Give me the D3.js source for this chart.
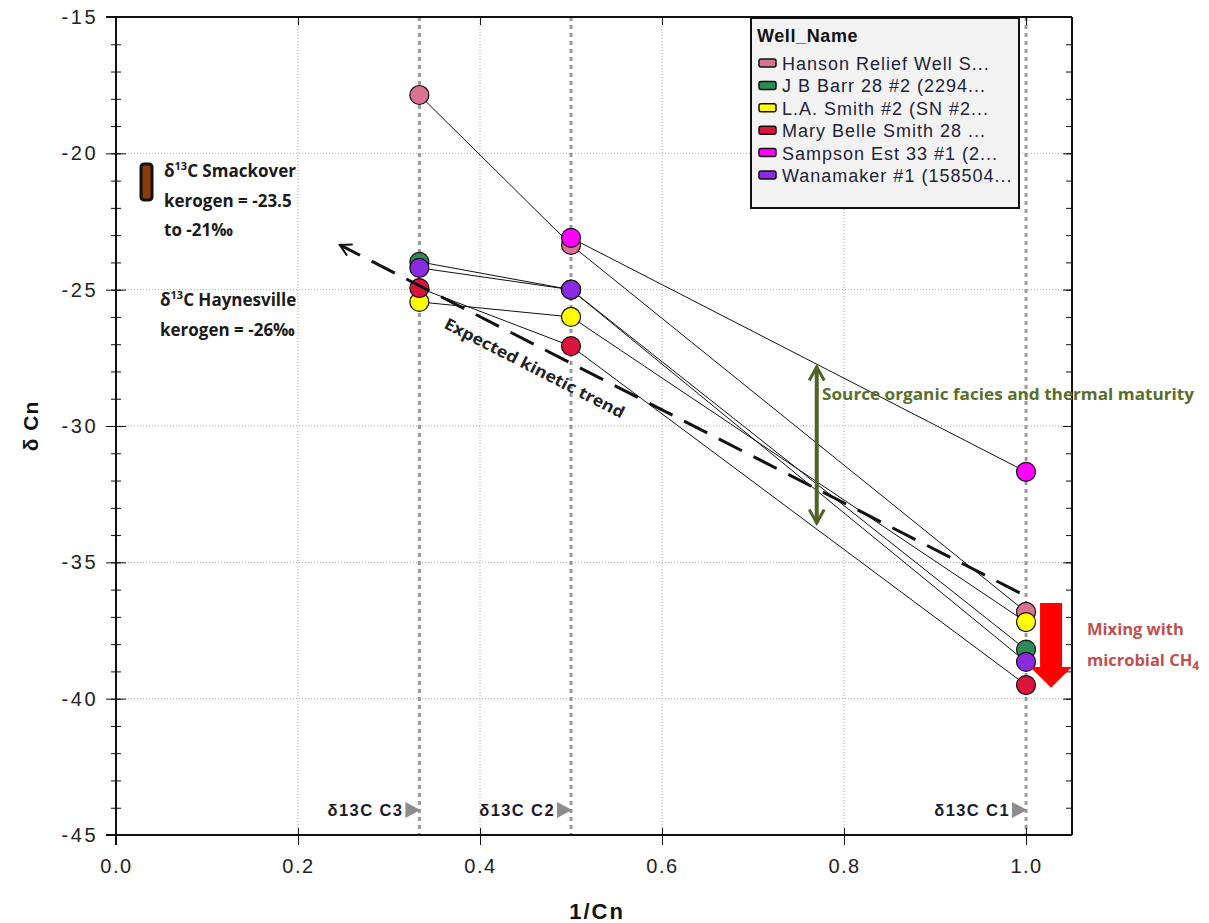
<!DOCTYPE html>
<html lang="en">
<head>
<meta charset="utf-8">
<title>delta Cn vs 1/Cn</title>
<style type="text/css">
    body { margin: 0; background: #fff; }
    svg { display: block; font-family: 'Liberation Sans', Arial, sans-serif; }
</style>
<script type="text/javascript" src="https://cdn.jsdelivr.net/npm/d3@7/dist/d3.min.js"></script>
</head>
<body>
<script type="text/javascript">
    var svgW = 1209;
    var svgH = 923;

    /* DATA */
    var carbonX = [1 / 3, 1 / 2, 1];
    var carbonLabels = ["δ13C C3", "δ13C C2", "δ13C C1"];
    var wellNames = ["Hanson Relief Well S...", "J B Barr 28 #2 (2294...", "L.A. Smith #2 (SN #2...",
        "Mary Belle Smith 28 ...", "Sampson Est 33 #1 (2...", "Wanamaker #1 (158504..."];
    var wellColors = ["#d9738f", "#2e8b57", "#ffff00", "#dc143c", "#ff00ff", "#8a2be2"];
    var hanson = [-17.86, -23.36, -36.82];
    var jbBarr = [-23.98, -25.0, -38.2];
    var laSmith = [-25.45, -26.0, -37.19];
    var maryBelle = [-24.94, -27.07, -39.5];
    var sampson = [null, -23.1, -31.68];
    var wanamaker = [-24.2, -25.0, -38.65];
    var wellValues = [hanson, jbBarr, laSmith, maryBelle, sampson, wanamaker];

    var xTicks = [0, 0.2, 0.4, 0.6, 0.8, 1.0];
    var yTicks = [-45, -40, -35, -30, -25, -20, -15];

    // annotation anchors, in data units
    var kineticFrom = [0.993, -36.12];
    var kineticTo = [0.246, -23.36];
    var faciesArrow = [0.770, -27.76, -33.63];
    var mixArrow = [[1.0154, -36.49], [1.0396, -36.49], [1.0396, -38.84], [1.0505, -38.84],
        [1.0275, -39.6], [1.0044, -38.84], [1.0154, -38.84]];

    var pLeft = 116, pRight = 1072, pTop = 17, pBottom = 835;

    var x = d3.scaleLinear().domain([0, 1.0505]).range([pLeft, pRight]);
    var y = d3.scaleLinear().domain([-45, -15]).range([pBottom, pTop]);

    var svg = d3.select("body").append("svg")
        .attr("width", svgW)
        .attr("height", svgH);

    var defs = svg.append("defs");
    defs.append("marker").attr("id", "openHead")
        .attr("viewBox", "0 0 12 12").attr("refX", 10).attr("refY", 6)
        .attr("markerWidth", 5).attr("markerHeight", 5).attr("orient", "auto-start-reverse")
        .attr("markerUnits", "strokeWidth")
        .append("path").attr("d", "M1,1 L10,6 L1,11")
        .attr("fill", "none").attr("stroke", "#111").attr("stroke-width", 1.6);
    defs.append("marker").attr("id", "greenHead")
        .attr("viewBox", "0 0 12 12").attr("refX", 10).attr("refY", 6)
        .attr("markerWidth", 4.5).attr("markerHeight", 4.5).attr("orient", "auto-start-reverse")
        .attr("markerUnits", "strokeWidth")
        .append("path").attr("d", "M1,1 L10,6 L1,11")
        .attr("fill", "none").attr("stroke", "#4f6228").attr("stroke-width", 2);

    /* GRID */
    svg.append("g").selectAll("line").data(xTicks.slice(1, 5)).enter().append("line")
        .attr("x1", d => x(d)).attr("x2", d => x(d)).attr("y1", pTop).attr("y2", pBottom)
        .attr("stroke", "#aaa").attr("stroke-width", 1).attr("stroke-dasharray", "1,2");
    svg.append("g").selectAll("line").data(yTicks.slice(1, 6)).enter().append("line")
        .attr("x1", pLeft).attr("x2", pRight).attr("y1", d => y(d)).attr("y2", d => y(d))
        .attr("stroke", "#aaa").attr("stroke-width", 1).attr("stroke-dasharray", "1,2");

    // heavy gray lines at C3, C2, C1
    svg.append("g").selectAll("line").data(carbonX).enter().append("line")
        .attr("x1", d => x(d)).attr("x2", d => x(d)).attr("y1", pTop).attr("y2", pBottom)
        .attr("stroke", "#999").attr("stroke-width", 3).attr("stroke-dasharray", "4,4");

    /* AXES */
    var yMinor = d3.range(-45, -14, 1);
    svg.append("g").attr("transform", "translate(" + pLeft + ",0)")
        .call(d3.axisLeft(y).tickValues(yMinor).tickSize(6).tickFormat(""))
        .call(g => g.selectAll(".tick line").attr("x2", -5).attr("x1", 5).attr("stroke", "#111"))
        .call(g => g.select(".domain").remove());
    svg.append("g").attr("transform", "translate(" + pLeft + ",0)")
        .call(d3.axisLeft(y).tickValues(yTicks).tickSize(10).tickPadding(10).tickFormat(d => String(d)))
        .call(g => g.selectAll(".tick line").attr("x1", 10).attr("stroke", "#111"))
        .call(g => g.selectAll(".tick text").attr("font-size", 20).attr("fill", "#222")
            .attr("letter-spacing", 2.5).attr("dx", 2)
            .attr("font-family", "'Liberation Sans', Arial, sans-serif"))
        .call(g => g.select(".domain").remove());
    svg.append("g").attr("transform", "translate(" + pRight + ",0)")
        .call(d3.axisLeft(y).tickValues(yMinor).tickSize(6).tickFormat(""))
        .call(g => g.selectAll(".tick line").attr("stroke", "#111"))
        .call(g => g.select(".domain").remove());
    svg.append("g").attr("transform", "translate(" + pRight + ",0)")
        .call(d3.axisLeft(y).tickValues(yTicks).tickSize(9).tickFormat(""))
        .call(g => g.selectAll(".tick line").attr("stroke", "#111"))
        .call(g => g.select(".domain").remove());

    svg.append("g").attr("transform", "translate(0," + pBottom + ")")
        .call(d3.axisBottom(x).tickValues(xTicks).tickSize(10).tickPadding(14).tickFormat(d3.format(".1f")))
        .call(g => g.selectAll(".tick line").attr("y1", -7).attr("stroke", "#111"))
        .call(g => g.selectAll(".tick text").attr("font-size", 20).attr("fill", "#222")
            .attr("letter-spacing", 1.5)
            .attr("font-family", "'Liberation Sans', Arial, sans-serif"))
        .call(g => g.select(".domain").remove());
    svg.append("g").attr("transform", "translate(0," + pTop + ")")
        .call(d3.axisBottom(x).tickValues(xTicks).tickSize(8).tickFormat(""))
        .call(g => g.selectAll(".tick line").attr("stroke", "#111"))
        .call(g => g.select(".domain").remove());

    // frame
    svg.append("line").attr("x1", pLeft - 10).attr("x2", pRight).attr("y1", pTop).attr("y2", pTop)
        .attr("stroke", "#111").attr("stroke-width", 2);
    svg.append("line").attr("x1", pLeft - 10).attr("x2", pRight).attr("y1", pBottom).attr("y2", pBottom)
        .attr("stroke", "#111").attr("stroke-width", 2);
    svg.append("line").attr("x1", pLeft).attr("x2", pLeft).attr("y1", pTop).attr("y2", pBottom + 10)
        .attr("stroke", "#111").attr("stroke-width", 2);
    svg.append("line").attr("x1", pRight).attr("x2", pRight).attr("y1", pTop).attr("y2", pBottom)
        .attr("stroke", "#111").attr("stroke-width", 2);

    svg.append("text").text("δ Cn")
        .attr("transform", "translate(38,426) rotate(-90)")
        .attr("text-anchor", "middle").attr("font-weight", "bold").attr("font-size", 21)
        .attr("letter-spacing", 1).attr("fill", "#111");
    svg.append("text").text("1/Cn")
        .attr("x", 597).attr("y", 919)
        .attr("text-anchor", "middle").attr("font-weight", "bold").attr("font-size", 22)
        .attr("letter-spacing", 2).attr("fill", "#111");

    /* C3 / C2 / C1 MARKERS */
    var cl = svg.append("g");
    carbonX.forEach(function (cx, i) {
        cl.append("path")
            .attr("d", "M" + (x(cx) - 14) + "," + 802 + " L" + (x(cx) + 1) + "," + 810 + " L" + (x(cx) - 14) + "," + 818 + "Z")
            .attr("fill", "#8c8c8c");
        cl.append("text").text(carbonLabels[i])
            .attr("x", x(cx) - 16).attr("y", 816)
            .attr("text-anchor", "end").attr("font-weight", "bold").attr("font-size", 16.5)
            .attr("letter-spacing", 1.4).attr("fill", "#1a1a2a");
    });

    /* SERIES LINES */
    var line = d3.line()
        .defined(d => d[1] !== null)
        .x(d => x(d[0])).y(d => y(d[1]));
    wellValues.forEach(function (vals) {
        var pts = vals.map((v, j) => [carbonX[j], v]);
        svg.append("path").attr("d", line(pts))
            .attr("fill", "none").attr("stroke", "#111").attr("stroke-width", 1);
    });

    /* SERIES POINTS */
    wellValues.forEach(function (vals, i) {
        svg.append("g").selectAll("circle")
            .data(vals.map((v, j) => [carbonX[j], v]).filter(d => d[1] !== null))
            .enter().append("circle")
            .attr("cx", d => x(d[0])).attr("cy", d => y(d[1])).attr("r", 9.5)
            .attr("fill", wellColors[i]).attr("stroke", "#111").attr("stroke-width", 1.2);
    });

    /* ANNOTATIONS */
    // expected kinetic trend
    svg.append("line")
        .attr("x1", x(kineticFrom[0])).attr("y1", y(kineticFrom[1]))
        .attr("x2", x(kineticTo[0])).attr("y2", y(kineticTo[1]))
        .attr("stroke", "#111").attr("stroke-width", 3).attr("stroke-dasharray", "26,13")
        .attr("marker-end", "url(#openHead)");
    var kAngle = Math.atan2(y(kineticFrom[1]) - y(kineticTo[1]), x(kineticFrom[0]) - x(kineticTo[0])) * 180 / Math.PI;
    svg.append("text").text("Expected kinetic trend")
        .attr("transform", "translate(532,373) rotate(" + kAngle + ")")
        .attr("text-anchor", "middle").attr("font-family", "'Open Sans', sans-serif")
        .attr("font-weight", "bold").attr("font-size", 16).attr("fill", "#222")
        .attr("textLength", 200).attr("lengthAdjust", "spacingAndGlyphs");

    // source facies arrow
    svg.append("line")
        .attr("x1", x(faciesArrow[0])).attr("x2", x(faciesArrow[0]))
        .attr("y1", y(faciesArrow[2]) - 2).attr("y2", y(faciesArrow[1]) + 2)
        .attr("stroke", "#4f6228").attr("stroke-width", 4)
        .attr("marker-start", "url(#greenHead)").attr("marker-end", "url(#greenHead)");
    svg.append("text").text("Source organic facies and thermal maturity")
        .attr("x", 822).attr("y", 400).attr("font-family", "'Open Sans', sans-serif")
        .attr("font-weight", "bold").attr("font-size", 16).attr("fill", "#5a6e2c")
        .attr("textLength", 372).attr("lengthAdjust", "spacingAndGlyphs");

    // mixing arrow
    svg.append("path")
        .attr("d", d3.line().x(d => x(d[0])).y(d => y(d[1]))(mixArrow) + "Z")
        .attr("fill", "#ff0000");
    var mix = svg.append("text").attr("font-family", "'Open Sans', sans-serif")
        .attr("font-weight", "bold").attr("font-size", 16.5).attr("fill", "#c0504d");
    mix.append("tspan").attr("x", 1087).attr("y", 635).text("Mixing with");
    mix.append("tspan").attr("x", 1087).attr("y", 666).text("microbial CH");
    mix.append("tspan").attr("dy", 4).attr("font-size", 12).text("4");

    // kerogen notes
    svg.append("rect").attr("x", 141).attr("y", 164).attr("width", 11).attr("height", 36)
        .attr("rx", 3).attr("fill", "#8b3a0a").attr("stroke", "#111").attr("stroke-width", 3);

    function deltaLine(g, xx, yy, rest) {
        var t = g.append("text").attr("x", xx).attr("y", yy);
        t.append("tspan").text("δ");
        t.append("tspan").attr("dy", -7).attr("font-size", 11).text("13");
        t.append("tspan").attr("dy", 7).text("C " + rest);
    }
    var notes = svg.append("g").attr("font-family", "'Open Sans', sans-serif")
        .attr("font-weight", "bold").attr("font-size", 17).attr("fill", "#1a1a1a");
    deltaLine(notes, 164, 177, "Smackover");
    notes.append("text").attr("x", 164).attr("y", 207).text("kerogen = -23.5");
    notes.append("text").attr("x", 164).attr("y", 236).text("to -21‰");
    deltaLine(notes, 160, 306, "Haynesville");
    notes.append("text").attr("x", 160).attr("y", 336).text("kerogen = -26‰");

    /* LEGEND */
    var lg = svg.append("g");
    lg.append("rect").attr("x", 751).attr("y", 18).attr("width", 268).attr("height", 190)
        .attr("fill", "#f3f3f3").attr("stroke", "#111").attr("stroke-width", 2);
    lg.append("text").text("Well_Name").attr("x", 757).attr("y", 42)
        .attr("font-weight", "bold").attr("font-size", 18).attr("letter-spacing", 0.6).attr("fill", "#111");
    wellNames.forEach(function (name, i) {
        var cy = 63 + i * 22.4;
        lg.append("rect").attr("x", 759).attr("y", cy - 4).attr("width", 17).attr("height", 8)
            .attr("rx", 2).attr("fill", wellColors[i]).attr("stroke", "#111").attr("stroke-width", 1.5);
        lg.append("text").text(name).attr("x", 782).attr("y", cy + 7)
            .attr("font-size", 18).attr("letter-spacing", 1.0).attr("fill", "#22223a");
    });
</script>
</body>
</html>
